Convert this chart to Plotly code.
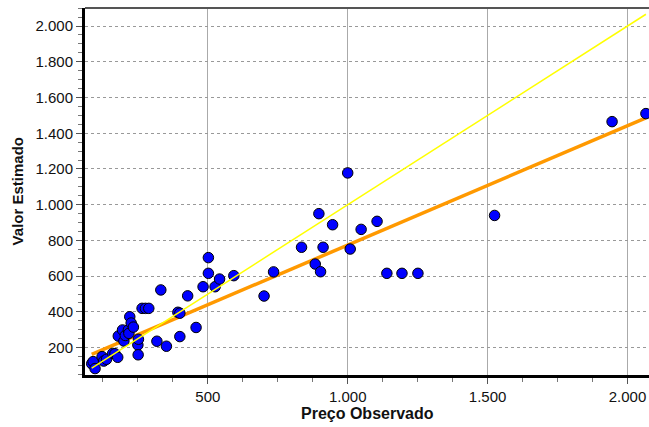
import plotly.graph_objects as go

# Data
preco_observado = [85, 90, 97, 122, 128, 138, 160, 168, 178, 180, 195, 200, 205, 216, 218,
                   221, 226, 234, 250, 251, 252, 265, 277, 289, 318, 332, 352, 393, 400, 400,
                   428, 458, 483, 502, 502, 526, 542, 593, 701, 735, 835, 884, 897, 903, 912,
                   946, 1000, 1009, 1048, 1105, 1140, 1194, 1251, 1525, 1945, 2066]
valor_estimado = [110, 122, 83, 150, 125, 135, 168, 166, 146, 265, 299, 237, 268, 299, 280,
                  373, 338, 315, 215, 160, 247, 420, 420, 420, 236, 523, 208, 398, 393, 262,
                  490, 313, 541, 704, 616, 541, 584, 603, 489, 624, 762, 668, 950, 625, 762,
                  888, 1178, 752, 862, 907, 616, 616, 616, 940, 1465, 1510]

# Fitted regression line: y = a + b*x
fit_intercept = 106
fit_slope = 0.668

x_ticks = [500, 1000, 1500, 2000]
x_tick_labels = ["500", "1.000", "1.500", "2.000"]
y_ticks = [200, 400, 600, 800, 1000, 1200, 1400, 1600, 1800, 2000]
y_tick_labels = ["200", "400", "600", "800", "1.000", "1.200", "1.400", "1.600", "1.800", "2.000"]

xmin, xmax = min(preco_observado), max(preco_observado)

fig = go.Figure()
fig.add_trace(go.Scatter(x=[xmin, xmax], y=[fit_intercept + fit_slope * xmin, fit_intercept + fit_slope * xmax],
                         mode="lines", line=dict(color="#ff9900", width=3.5), hoverinfo="skip"))
fig.add_trace(go.Scatter(x=preco_observado, y=valor_estimado, mode="markers", cliponaxis=False,
                         marker=dict(size=10.5, color="#0000ff", line=dict(color="black", width=1))))
fig.add_trace(go.Scatter(x=[xmin, xmax], y=[xmin, xmax], mode="lines",
                         line=dict(color="#ffff00", width=1.5), hoverinfo="skip"))

font = "Liberation Sans, Arial, sans-serif"
fig.update_layout(
    width=649, height=427,
    margin=dict(l=85, r=0, t=8, b=52),
    paper_bgcolor="white", plot_bgcolor="white",
    showlegend=False,
    font=dict(family=font, size=15, color="#111"),
    xaxis=dict(range=[61, 2077], tickmode="array", tickvals=x_ticks, ticktext=x_tick_labels,
               automargin=False,
               showgrid=True, gridcolor="#aaaaaa", gridwidth=1,
               showline=True, linecolor="black", linewidth=3,
               ticks="outside", ticklen=6, tickcolor="#555", tickwidth=1,
               minor=dict(dtick=125, tick0=0, ticks="outside", ticklen=4, tickcolor="#777", showgrid=False),
               zeroline=False, tickfont=dict(size=15)),
    yaxis=dict(range=[47, 2101], tickmode="array", tickvals=y_ticks, ticktext=y_tick_labels,
               automargin=False,
               showgrid=True, gridcolor="#999999", gridwidth=1, griddash="dot",
               showline=True, linecolor="black", linewidth=3,
               ticks="outside", ticklen=6, tickcolor="#555", tickwidth=1,
               minor=dict(dtick=50, tick0=0, ticks="outside", ticklen=4, tickcolor="#777", showgrid=False),
               zeroline=False, tickfont=dict(size=15)),
    shapes=[dict(type="line", xref="paper", yref="paper", x0=0, x1=1, y0=1, y1=1,
                 line=dict(color="#555", width=2))],
    annotations=[
        dict(text="<b>Preço Observado</b>", xref="paper", yref="paper", x=0.5, y=-0.106,
             xanchor="center", yanchor="middle", showarrow=False, font=dict(size=16, family=font)),
        dict(text="<b>Valor Estimado</b>", xref="paper", yref="paper", x=-0.119, y=0.5,
             xanchor="center", yanchor="middle", textangle=-90, showarrow=False,
             font=dict(size=15, family=font)),
    ],
)
fig.write_html("out.html", config={"displayModeBar": False},
               post_script="document.body.style.margin='0px';")
